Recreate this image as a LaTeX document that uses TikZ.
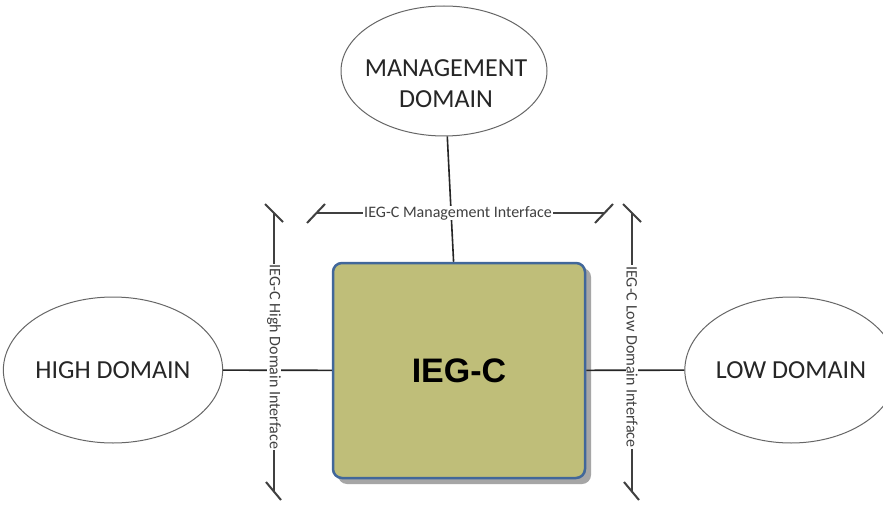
\documentclass[tikz,border=0pt]{standalone}
\usepackage{fontspec}
\setmainfont{Carlito}
\newfontfamily\arialfont{Liberation Sans}
\usetikzlibrary{shapes.geometric,calc}
\definecolor{boxfill}{RGB}{191,190,121}
\definecolor{boxedge}{RGB}{65,103,154}
\definecolor{inkgray}{RGB}{64,64,64}
\begin{document}
\begin{tikzpicture}[x=1pt,y=-1pt,
  domainshape/.style={ellipse, draw=black!60, line width=1pt, fill=white, inner sep=0pt},
  domaintext/.style={font=\fontsize{26}{31}\selectfont, text=black!85, align=center},
  link/.style={draw=black!85, line width=1.6pt},
  bracket/.style={draw=inkgray, line width=1.5pt},
  tickmark/.style={draw=inkgray, line width=2pt},
  iflabel/.style={fill=white, inner xsep=1pt, inner ysep=0pt, text=inkgray,
                  font=\fontsize{16}{18}\selectfont},
  gateway/.style={draw=boxedge, line width=2.5pt, fill=boxfill, rounded corners=9pt,
                  minimum width=252pt, minimum height=215pt,
                  font=\arialfont\bfseries\fontsize{34}{40}\selectfont}
]
\useasboundingbox[fill=white] (0,0) rectangle (883,508);

% domains
\node[domainshape, minimum width=206pt, minimum height=130pt] (mgmt) at (444,71) {};
\node[domaintext] (mgmttext) at (446,84) {MANAGEMENT\\DOMAIN};
\node[domainshape, minimum width=206pt, minimum height=146pt, domaintext] (high) at (113,370) {HIGH DOMAIN};
\node[domainshape, minimum width=208pt, minimum height=146pt, domaintext] (low) at (791,370) {LOW DOMAIN};

% the gateway box with its drop shadow
\fill[black!35, rounded corners=9pt] (338,268) rectangle (591,484);
\node[gateway] (ieg) at (459,370.5) {IEG-C};

% connections
\draw[link] (mgmt) -- (ieg);
\draw[link] (high) -- (ieg);
\draw[link] (ieg) -- (low);

% interface brackets
\coordinate (mL) at (316,213);
\coordinate (mR) at (604,213);
\draw[bracket] (mL) -- (mR);
\draw[tickmark] ($(mL)+(-9,10)$) -- ($(mL)+(9,-9)$);
\draw[tickmark] ($(mR)+(-9,10)$) -- ($(mR)+(9,-9)$);
\node[iflabel] (mgmtif) at (458,213) {IEG-C Management Interface};

\coordinate (hT) at (274,213);
\coordinate (hB) at (274,491);
\draw[bracket] (hT) -- (hB);
\draw[tickmark] ($(hT)+(-9,-9)$) -- ($(hT)+(9,9)$);
\draw[tickmark] ($(hB)+(-8,-9)$) -- ($(hB)+(7,9)$);
\node[iflabel, rotate=-90] (highif) at (274,357) {IEG-C High Domain Interface};

\coordinate (lT) at (632,213);
\coordinate (lB) at (632,491);
\draw[bracket] (lT) -- (lB);
\draw[tickmark] ($(lT)+(-9,-9)$) -- ($(lT)+(9,9)$);
\draw[tickmark] ($(lB)+(-8,-9)$) -- ($(lB)+(7,9)$);
\node[iflabel, rotate=-90] (lowif) at (632,357) {IEG-C Low Domain Interface};
\end{tikzpicture}
\end{document}
